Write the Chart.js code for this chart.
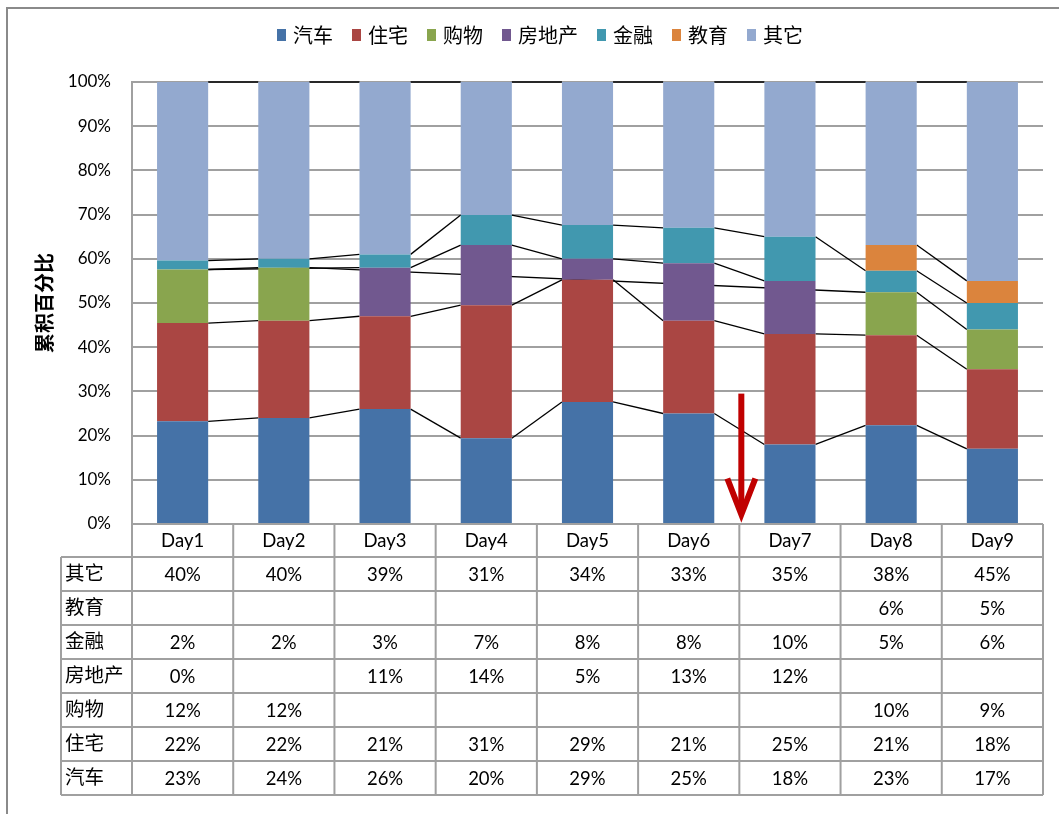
<!DOCTYPE html>
<html>
<head>
<meta charset="utf-8">
<script src="https://cdn.jsdelivr.net/npm/chart.js@4"></script>
<style>
  body { margin: 0; background: #fff; }
  canvas { display: block; }
</style>
</head>
<body>
<canvas id="myChart" width="1059" height="814"></canvas>
<script>
// categories
const days = ['Day1', 'Day2', 'Day3', 'Day4', 'Day5', 'Day6', 'Day7', 'Day8', 'Day9'];

// series, bottom of the stack first (values in %, null = blank cell)
const car        = [23, 24, 26, 20, 29, 25, 18, 23, 17];
const house      = [22, 22, 21, 31, 29, 21, 25, 21, 18];
const shopping   = [12, 12, null, null, null, null, null, 10, 9];
const realEstate = [0, null, 11, 14, 5, 13, 12, null, null];
const finance    = [2, 2, 3, 7, 8, 8, 10, 5, 6];
const education  = [null, null, null, null, null, null, null, 6, 5];
const other      = [40, 40, 39, 31, 34, 33, 35, 38, 45];

const seriesNames  = ['汽车', '住宅', '购物', '房地产', '金融', '教育', '其它'];
const seriesValues = [car, house, shopping, realEstate, finance, education, other];
const seriesColors = ['#4572A7', '#AA4643', '#89A54E', '#71588F', '#4198AF', '#DB843D', '#93A9CF'];

// y axis ticks
const yMax = 100;
const yStep = 10;

const cjkFont = "'Noto Sans CJK SC', sans-serif";
const numFont = "Lato, 'Noto Sans', sans-serif";
const lineGray = '#a0a0a0';

// 100% stacked: normalise each day to its total
const totals = days.map((d, i) => seriesValues.reduce((s, arr) => s + (arr[i] || 0), 0));
const percent = seriesValues.map(arr => arr.map((v, i) => v === null ? null : v / totals[i] * 100));

// cumulative top of each series per day
function cumulativeTop(s, i) {
    let sum = 0;
    for (let k = 0; k <= s; k++) sum += percent[k][i] || 0;
    return sum;
}

// Excel style series lines, joining each series between neighbouring bars
const seriesLines = {
    id: 'seriesLines',
    beforeDatasetsDraw(chart) {
        const ctx = chart.ctx;
        const y = chart.scales.y;
        const bars = chart.getDatasetMeta(0).data;
        ctx.save();
        ctx.strokeStyle = '#000';
        ctx.lineWidth = 1.3;
        seriesValues.forEach((arr, s) => {
            let prev = -1;
            arr.forEach((v, i) => {
                if (v === null) return;
                if (prev >= 0) {
                    const a = bars[prev], b = bars[i];
                    ctx.beginPath();
                    ctx.moveTo(a.x + a.width / 2, y.getPixelForValue(cumulativeTop(s, prev)));
                    ctx.lineTo(b.x - b.width / 2, y.getPixelForValue(cumulativeTop(s, i)));
                    ctx.stroke();
                }
                prev = i;
            });
        });
        ctx.restore();
    }
};

// legend, data table, arrow and frame
const extras = {
    id: 'extras',
    afterDraw(chart) {
        const ctx = chart.ctx;
        const area = chart.chartArea;
        const x = chart.scales.x;
        const y = chart.scales.y;
        ctx.save();

        // legend
        ctx.font = '20px ' + cjkFont;
        ctx.textBaseline = 'middle';
        ctx.textAlign = 'left';
        const widths = seriesNames.map(n => 9 + 7 + ctx.measureText(n).width);
        const total = widths.reduce((a, b) => a + b, 0) + 19 * (widths.length - 1);
        let lx = 540 - total / 2;
        seriesNames.forEach((n, i) => {
            ctx.fillStyle = seriesColors[i];
            ctx.fillRect(lx, 29, 9, 12);
            ctx.fillStyle = '#000';
            ctx.fillText(n, lx + 16, 35);
            lx += widths[i] + 19;
        });

        // data table
        const catW = area.width / days.length;
        const headTop = area.bottom;
        const headBottom = headTop + 33;
        const rowH = 34;
        const labelLeft = 61;
        const rows = seriesNames.map((n, i) => i).reverse();
        const tableBottom = headBottom + rowH * rows.length;

        ctx.strokeStyle = lineGray;
        ctx.lineWidth = 2;
        ctx.beginPath();
        for (let k = 0; k <= days.length; k++) {
            const vx = area.left + k * catW;
            ctx.moveTo(vx, headTop);
            ctx.lineTo(vx, tableBottom);
        }
        ctx.moveTo(labelLeft, headBottom);
        ctx.lineTo(labelLeft, tableBottom);
        for (let r = 0; r <= rows.length; r++) {
            const hy = headBottom + r * rowH;
            ctx.moveTo(labelLeft, hy);
            ctx.lineTo(area.right, hy);
        }
        ctx.stroke();

        ctx.fillStyle = '#000';
        ctx.textAlign = 'center';
        ctx.font = '18.5px ' + numFont;
        days.forEach((d, i) => ctx.fillText(d, x.getPixelForValue(i), (headTop + headBottom) / 2 + 1));
        rows.forEach((s, r) => {
            const cy = headBottom + r * rowH + rowH / 2 + 1;
            ctx.textAlign = 'left';
            ctx.font = '19.5px ' + cjkFont;
            ctx.fillText(seriesNames[s], labelLeft + 4, cy - 2);
            ctx.textAlign = 'center';
            ctx.font = '18.5px ' + numFont;
            seriesValues[s].forEach((v, i) => {
                if (v !== null) ctx.fillText(v + '%', x.getPixelForValue(i), cy);
            });
        });

        // red arrow between Day6 and Day7
        const ax = (x.getPixelForValue(5) + x.getPixelForValue(6)) / 2 + 2;
        const aTop = y.getPixelForValue(29.5);
        const aTip = y.getPixelForValue(1.7);
        ctx.strokeStyle = '#C00000';
        ctx.lineWidth = 6;
        ctx.beginPath();
        ctx.moveTo(ax, aTop);
        ctx.lineTo(ax, aTip - 6);
        ctx.stroke();
        ctx.beginPath();
        ctx.moveTo(ax - 14, aTip - 38);
        ctx.lineTo(ax, aTip - 2);
        ctx.lineTo(ax + 14, aTip - 38);
        ctx.stroke();

        // outer frame
        ctx.strokeStyle = '#8a8a8a';
        ctx.lineWidth = 2;
        ctx.strokeRect(7, 8, 1100, 900);
        ctx.restore();
    }
};

const ctx = document.getElementById('myChart').getContext('2d');
const myChart = new Chart(ctx, {
    type: 'bar',
    data: {
        labels: days,
        datasets: seriesNames.map((n, s) => ({
            label: n,
            data: percent[s],
            backgroundColor: seriesColors[s],
            borderWidth: 0,
            barPercentage: 0.505,
            categoryPercentage: 1
        }))
    },
    options: {
        responsive: false,
        animation: false,
        devicePixelRatio: 1,
        layout: { padding: { left: 32, right: 16, top: 82, bottom: 290 } },
        plugins: {
            legend: { display: false },
            tooltip: { enabled: false }
        },
        scales: {
            x: { stacked: true, display: false },
            y: {
                stacked: true,
                min: 0,
                max: yMax,
                afterFit(scale) { scale.width = 100; },
                ticks: {
                    stepSize: yStep,
                    padding: 21,
                    color: '#000',
                    font: { family: numFont, size: 17 },
                    callback: v => v + '%'
                },
                grid: { color: lineGray, lineWidth: 2, drawTicks: false },
                border: { color: lineGray, width: 2 },
                title: {
                    display: true,
                    text: '累积百分比',
                    color: '#000',
                    padding: 0,
                    font: { family: cjkFont, size: 20, weight: 'bold' }
                }
            }
        }
    },
    plugins: [seriesLines, extras]
});
</script>
</body>
</html>
